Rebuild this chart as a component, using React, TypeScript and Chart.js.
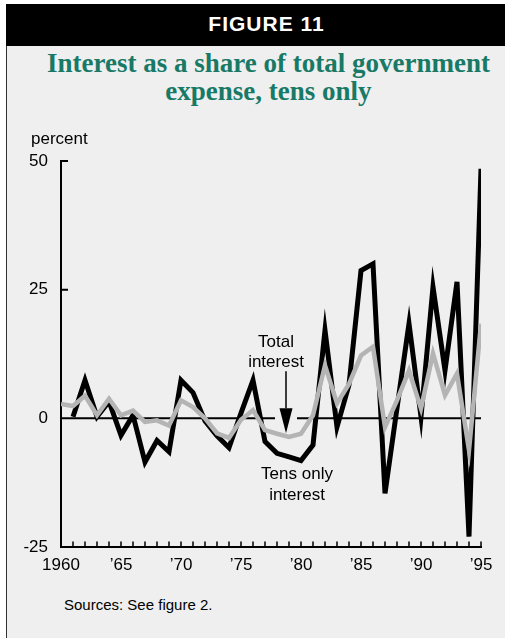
import React, { useEffect, useRef } from "react";
import { Chart, registerables } from "chart.js";

Chart.register(...registerables);

// ---- data ----
const years = [
  1960, 1961, 1962, 1963, 1964, 1965, 1966, 1967, 1968, 1969,
  1970, 1971, 1972, 1973, 1974, 1975, 1976, 1977, 1978, 1979,
  1980, 1981, 1982, 1983, 1984, 1985, 1986, 1987, 1988, 1989,
  1990, 1991, 1992, 1993, 1994, 1995,
];
const tensOnlyInterest: (number | null)[] = [
  null, 0.3, 7.4, 0.3, 3.3, -3.3, 0.6, -8.5, -4.3, -6.5,
  7.4, 5.0, -0.5, -3.4, -5.7, 1.0, 7.4, -4.5, -6.8, -7.5,
  -8.2, -5.2, 17.1, -1.7, 6.5, 28.7, 30.0, -14.6, 2.0, 18.4,
  0.3, 25.5, 9.3, 26.5, -23.0, 48.5,
];
const totalInterest: number[] = [
  2.8, 2.4, 4.4, 0.6, 3.8, 0.6, 1.5, -0.7, -0.4, -1.4,
  3.5, 2.2, 0.0, -2.9, -3.8, -0.3, 1.6, -2.3, -3.0, -3.6,
  -3.0, 0.6, 10.3, 2.9, 6.7, 12.2, 13.9, -1.7, 3.5, 9.3,
  1.9, 12.6, 4.5, 8.7, -6.2, 18.4,
];
const xTickLabels = ["1960", "\u201965", "\u201970", "\u201975", "\u201980", "\u201985", "\u201990", "\u201995"];
const yTickValues = [-25, 0, 25, 50];
const yAxisTitle = "percent";
const totalLabel = ["Total", "interest"];
const tensLabel = ["Tens only", "interest"];
const arrowYear = 1978.75;
const figureLabel = "FIGURE 11";
const titleLines = ["Interest as a share of total government", "expense, tens only"];
const sourceNote = "Sources: See figure 2.";

const SANS = '"Liberation Sans", Arial, Helvetica, sans-serif';
const SERIF = '"Liberation Serif", "Times New Roman", serif';

const decorPlugin = {
  id: "decor",
  beforeDatasetsDraw(chart: any) {
    const { ctx, chartArea: a, scales } = chart;
    const x = scales.x;
    const y = scales.y;
    const y0 = y.getPixelForValue(0);
    const ax = x.getPixelForValue(arrowYear);
    ctx.save();
    ctx.strokeStyle = "#000";
    ctx.lineWidth = 2;
    ctx.beginPath();
    ctx.moveTo(a.left, y0);
    ctx.lineTo(ax - 11, y0);
    ctx.moveTo(ax + 11, y0);
    ctx.lineTo(a.right, y0);
    ctx.stroke();
    // inward y ticks
    ctx.beginPath();
    for (const v of yTickValues) {
      if (v <= 0) continue;
      const py = y.getPixelForValue(v);
      ctx.moveTo(a.left, py);
      ctx.lineTo(a.left + 7, py);
    }
    ctx.stroke();
    // inward x ticks every year
    ctx.lineWidth = 1.5;
    ctx.beginPath();
    for (const yr of years) {
      if (yr === years[0]) continue;
      const px = x.getPixelForValue(yr);
      ctx.moveTo(px, a.bottom);
      ctx.lineTo(px, a.bottom - 5.5);
    }
    ctx.stroke();
    ctx.restore();
  },
  afterDatasetsDraw(chart: any) {
    const { ctx, chartArea: a, scales } = chart;
    const x = scales.x;
    const y = scales.y;
    const y0 = y.getPixelForValue(0);
    const ax = x.getPixelForValue(arrowYear);
    ctx.save();
    ctx.strokeStyle = "#000";
    ctx.fillStyle = "#000";
    ctx.lineWidth = 1.5;
    ctx.beginPath();
    ctx.moveTo(ax, y0 - 47);
    ctx.lineTo(ax, y0 - 10);
    ctx.stroke();
    ctx.beginPath();
    ctx.moveTo(ax - 6.5, y0 - 10);
    ctx.lineTo(ax + 6.5, y0 - 10);
    ctx.lineTo(ax, y0 + 15);
    ctx.closePath();
    ctx.fill();

    ctx.font = `17px ${SANS}`;
    ctx.textAlign = "center";
    ctx.textBaseline = "alphabetic";
    ctx.fillText(totalLabel[0], ax - 10, y0 - 71);
    ctx.fillText(totalLabel[1], ax - 10, y0 - 51);
    ctx.fillText(tensLabel[0], ax + 11, y0 + 61);
    ctx.fillText(tensLabel[1], ax + 11, y0 + 82);

    ctx.textAlign = "left";
    ctx.fillText(yAxisTitle, a.left - 30, a.top - 17.5);
    ctx.restore();
  },
};

function ChartCanvas() {
  const ref = useRef<HTMLCanvasElement | null>(null);
  useEffect(() => {
    if (!ref.current) return;
    const chart = new Chart(ref.current, {
      type: "line",
      data: {
        datasets: [
          {
            label: "Total interest",
            data: years.map((yr, i) => ({ x: yr, y: totalInterest[i] })),
            borderColor: "#b4b4b4",
            borderWidth: 4.5,
            pointRadius: 0,
            tension: 0,
            order: 0,
            borderJoinStyle: "miter",
          },
          {
            label: "Tens only interest",
            data: years.map((yr, i) => ({ x: yr, y: tensOnlyInterest[i] })),
            borderColor: "#000",
            borderWidth: 5,
            pointRadius: 0,
            tension: 0,
            order: 1,
            borderJoinStyle: "miter",
          },
        ],
      },
      options: {
        animation: false,
        responsive: false,
        maintainAspectRatio: false,
        devicePixelRatio: 1,
        layout: { padding: { left: 0, top: 161, right: 24, bottom: 0 } },
        plugins: {
          legend: { display: false },
          tooltip: { enabled: false },
          title: { display: false },
        },
        scales: {
          x: {
            type: "linear",
            min: 1960,
            max: 1995,
            grid: { display: false, drawTicks: false },
            border: { display: true, color: "#000", width: 2 },
            ticks: {
              stepSize: 5,
              autoSkip: false,
              maxRotation: 0,
              padding: 8,
              color: "#000",
              font: { family: SANS, size: 17 },
              callback: (v: any) => xTickLabels[Math.round((Number(v) - 1960) / 5)] ?? "",
            },
            afterFit: (s: any) => {
              s.height = 91;
            },
          },
          y: {
            type: "linear",
            min: -25,
            max: 50,
            grid: { display: false, drawTicks: false },
            border: { display: true, color: "#000", width: 2 },
            ticks: {
              stepSize: 25,
              padding: 13,
              color: "#000",
              font: { family: SANS, size: 17 },
            },
            afterFit: (s: any) => {
              s.width = 61;
            },
          },
        },
      },
      plugins: [decorPlugin],
    } as any);
    return () => chart.destroy();
  }, []);
  return (
    <canvas
      ref={ref}
      width={505}
      height={638}
      style={{ position: "absolute", left: 0, top: 0, width: 505, height: 638 }}
    />
  );
}

export default function App() {
  return (
    <div
      style={{
        position: "fixed",
        left: 0,
        top: 0,
        width: 505,
        height: 638,
        overflow: "hidden",
        background: "#fff",
      }}
    >
      <div
        style={{
          position: "absolute",
          left: 6,
          top: 4,
          width: 499,
          height: 634,
          background: "#efefef",
          borderLeft: "1.5px solid #333",
          boxSizing: "border-box",
        }}
      />
      <div style={{ position: "absolute", left: 6, top: 4, width: 499, height: 42, background: "#000" }} />
      <div
        style={{
          position: "absolute",
          left: 100,
          top: 13.2,
          width: 333,
          textAlign: "center",
          color: "#fff",
          fontFamily: SANS,
          fontWeight: "bold",
          fontSize: 21,
          lineHeight: "21px",
          letterSpacing: "1px",
          whiteSpace: "nowrap",
        }}
      >
        {figureLabel}
      </div>
      <div
        style={{
          position: "absolute",
          left: 36,
          top: 48.6,
          width: 465,
          textAlign: "center",
          color: "#187a66",
          fontFamily: SERIF,
          fontWeight: "bold",
          fontSize: 27,
          lineHeight: "28px",
          whiteSpace: "nowrap",
        }}
      >
        {titleLines.map((t) => (
          <div key={t}>{t}</div>
        ))}
      </div>
      <div
        style={{
          position: "absolute",
          left: 64,
          top: 596.8,
          color: "#000",
          fontFamily: SANS,
          fontSize: 15,
          lineHeight: "15px",
          whiteSpace: "nowrap",
        }}
      >
        {sourceNote}
      </div>
      <ChartCanvas />
    </div>
  );
}
